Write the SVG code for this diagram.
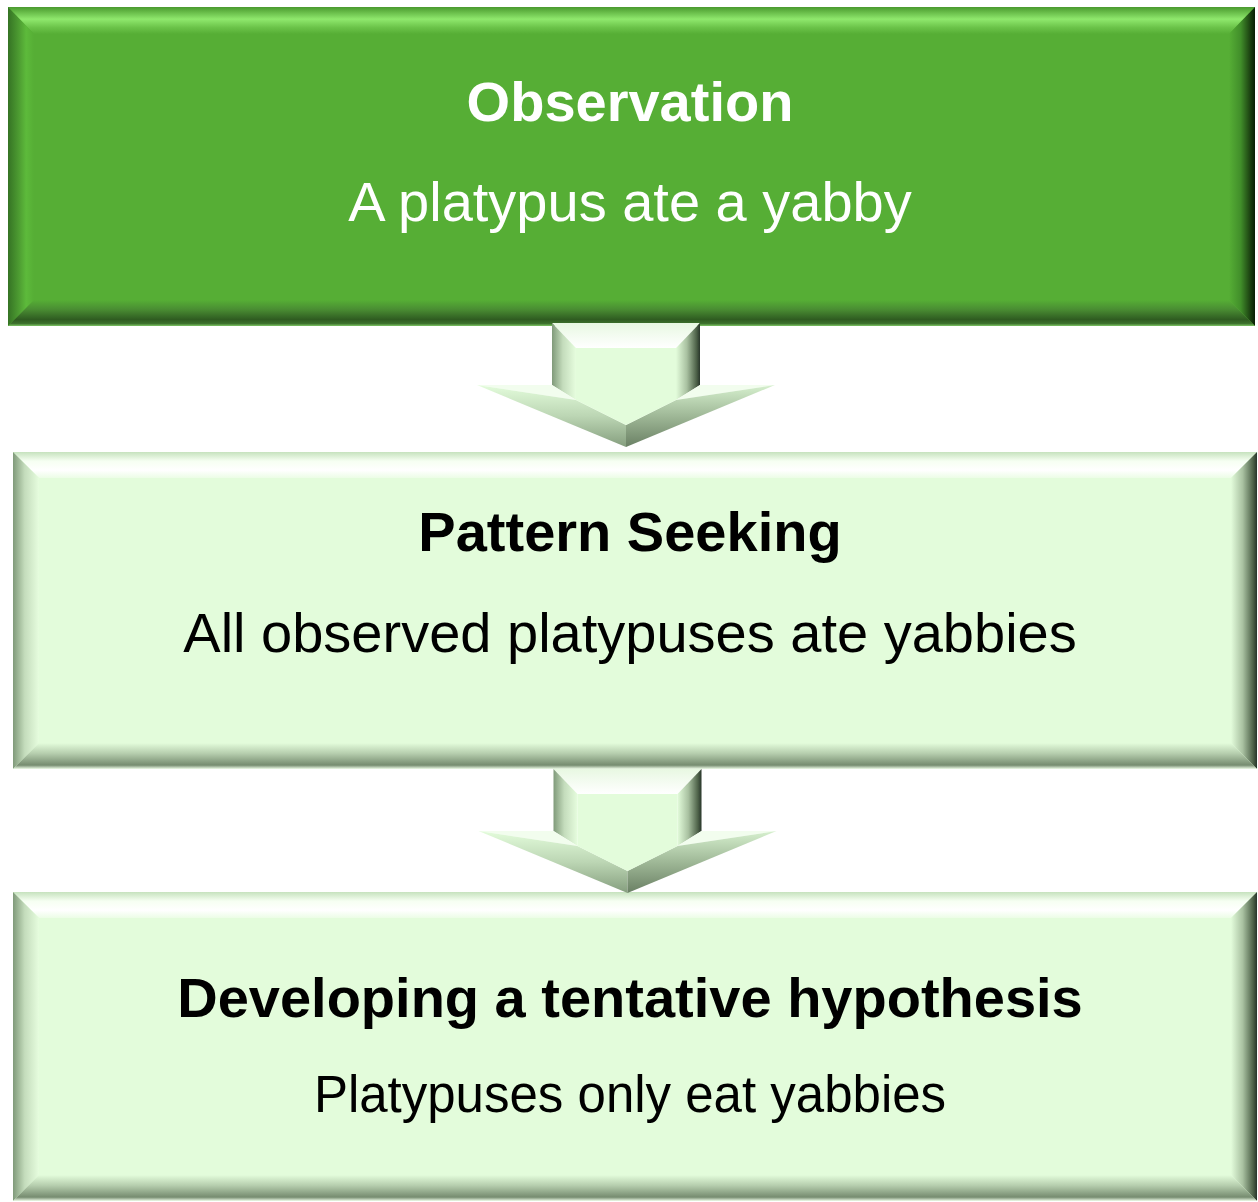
<svg xmlns="http://www.w3.org/2000/svg" width="1258" height="1202" viewBox="0 0 1258 1202">
  <defs>
    <!-- dark green bevel box -->
    <linearGradient id="gTop" x1="0" y1="0" x2="0" y2="1">
      <stop offset="0" stop-color="#4a9a2e"/>
      <stop offset="0.45" stop-color="#8fe86d"/>
      <stop offset="0.75" stop-color="#6cc44a"/>
      <stop offset="1" stop-color="#56ae35"/>
    </linearGradient>
    <linearGradient id="gLeft" x1="0" y1="0" x2="1" y2="0">
      <stop offset="0" stop-color="#357324"/>
      <stop offset="0.4" stop-color="#4c9a31"/>
      <stop offset="0.7" stop-color="#5dba3b"/>
      <stop offset="1" stop-color="#56ae35"/>
    </linearGradient>
    <linearGradient id="gRight" x1="0" y1="0" x2="1" y2="0">
      <stop offset="0" stop-color="#56ae35"/>
      <stop offset="0.45" stop-color="#418e2a"/>
      <stop offset="0.8" stop-color="#1d4412"/>
      <stop offset="1" stop-color="#0a1f05"/>
    </linearGradient>
    <linearGradient id="gBottom" x1="0" y1="0" x2="0" y2="1">
      <stop offset="0" stop-color="#56ae35"/>
      <stop offset="0.35" stop-color="#4a8e33"/>
      <stop offset="0.75" stop-color="#2f5c21"/>
      <stop offset="0.9" stop-color="#3c702c"/>
      <stop offset="1" stop-color="#7cc464"/>
    </linearGradient>
    <!-- pale green bevel boxes -->
    <linearGradient id="lTop" x1="0" y1="0" x2="0" y2="1">
      <stop offset="0" stop-color="#c6e2be"/>
      <stop offset="0.35" stop-color="#f6fff2"/>
      <stop offset="0.7" stop-color="#ffffff"/>
      <stop offset="1" stop-color="#ecfde6"/>
    </linearGradient>
    <linearGradient id="lLeft" x1="0" y1="0" x2="1" y2="0">
      <stop offset="0" stop-color="#809a7a"/>
      <stop offset="0.45" stop-color="#c4dcbc"/>
      <stop offset="1" stop-color="#e6fdde"/>
    </linearGradient>
    <linearGradient id="lRight" x1="0" y1="0" x2="1" y2="0">
      <stop offset="0" stop-color="#e3fcdb"/>
      <stop offset="0.45" stop-color="#a9c1a1"/>
      <stop offset="0.85" stop-color="#4e6249"/>
      <stop offset="1" stop-color="#28352a"/>
    </linearGradient>
    <linearGradient id="lBottom" x1="0" y1="0" x2="0" y2="1">
      <stop offset="0" stop-color="#e3fcdb"/>
      <stop offset="0.4" stop-color="#b6ceae"/>
      <stop offset="0.85" stop-color="#768c70"/>
      <stop offset="1" stop-color="#eefce8"/>
    </linearGradient>
    <!-- arrow facets -->
    <linearGradient id="aLow" x1="0" y1="0" x2="0" y2="1">
      <stop offset="0" stop-color="#e3fcdb"/>
      <stop offset="0.5" stop-color="#bcd6b4"/>
      <stop offset="1" stop-color="#859e7e"/>
    </linearGradient>
    <linearGradient id="aLowR" x1="0" y1="0" x2="0" y2="1">
      <stop offset="0" stop-color="#d6f0ce"/>
      <stop offset="0.5" stop-color="#9fb897"/>
      <stop offset="1" stop-color="#6a8064"/>
    </linearGradient>
    <linearGradient id="aTopW" x1="0" y1="0" x2="0" y2="1">
      <stop offset="0" stop-color="#e8f8e2"/>
      <stop offset="1" stop-color="#ffffff"/>
    </linearGradient>
    <!-- one block arrow, drawn facet by facet -->
    <g id="blockArrow">
      <polygon points="552,323 700,323 676,348 576,348" fill="url(#aTopW)"/>
      <polygon points="552,323 576,348 576,400 552,385" fill="url(#lLeft)"/>
      <polygon points="700,323 700,385 676,400 676,348" fill="url(#lRight)"/>
      <polygon points="477,385 552,385 576,400" fill="#f2fdee"/>
      <polygon points="775,385 700,385 676,400" fill="#f2fdee"/>
      <polygon points="477,385 576,400 626,425 626,447" fill="url(#aLow)"/>
      <polygon points="775,385 676,400 626,425 626,447" fill="url(#aLowR)"/>
      <polygon points="576,348 676,348 676,400 626,425 576,400" fill="#e3fcdb"/>
    </g>
  </defs>
  <style>
    .t { font-family: "Liberation Sans", Arial, sans-serif; text-anchor: middle; }
    .h { font-weight: bold; font-size: 56px; }
    .b { font-size: 56px; }
    .s { font-size: 51px; }
    .w { fill: #ffffff; }
    .k { fill: #000000; }
  </style>

  <!-- Observation -->
  <g id="observation">
    <rect x="8" y="7" width="1247" height="319" fill="#56ae35"/>
    <polygon points="8,7 1255,7 1229,34 34,34" fill="url(#gTop)"/>
    <polygon points="8,7 34,34 34,300 8,326" fill="url(#gLeft)"/>
    <polygon points="1255,7 1255,326 1229,300 1229,34" fill="url(#gRight)"/>
    <polygon points="8,326 34,300 1229,300 1255,326" fill="url(#gBottom)"/>
    <text class="t h w" x="630" y="121">Observation</text>
    <text class="t b w" x="630" y="221">A platypus ate a yabby</text>
  </g>

  <!-- Pattern Seeking -->
  <g id="pattern-seeking">
    <rect x="13" y="452" width="1244" height="317" fill="#e3fcdb"/>
    <polygon points="13,452 1257,452 1231,478 39,478" fill="url(#lTop)"/>
    <polygon points="13,452 39,478 39,743 13,769" fill="url(#lLeft)"/>
    <polygon points="1257,452 1257,769 1231,743 1231,478" fill="url(#lRight)"/>
    <polygon points="13,769 39,743 1231,743 1257,769" fill="url(#lBottom)"/>
    <text class="t h k" x="630" y="551">Pattern Seeking</text>
    <text class="t b k" x="630" y="652">All observed platypuses ate yabbies</text>
  </g>

  <!-- Developing a tentative hypothesis -->
  <g id="hypothesis">
    <rect x="13" y="892" width="1244" height="309" fill="#e3fcdb"/>
    <polygon points="13,892 1257,892 1231,918 39,918" fill="url(#lTop)"/>
    <polygon points="13,892 39,918 39,1175 13,1201" fill="url(#lLeft)"/>
    <polygon points="1257,892 1257,1201 1231,1175 1231,918" fill="url(#lRight)"/>
    <polygon points="13,1201 39,1175 1231,1175 1257,1201" fill="url(#lBottom)"/>
    <text class="t h k" x="630" y="1017">Developing a tentative hypothesis</text>
    <text class="t s k" x="630" y="1112">Platypuses only eat yabbies</text>
  </g>

  <!-- block arrows between steps -->
  <g id="connectors">
    <use href="#blockArrow"/>
    <use href="#blockArrow" transform="translate(1.5,446)"/>
  </g>
</svg>
